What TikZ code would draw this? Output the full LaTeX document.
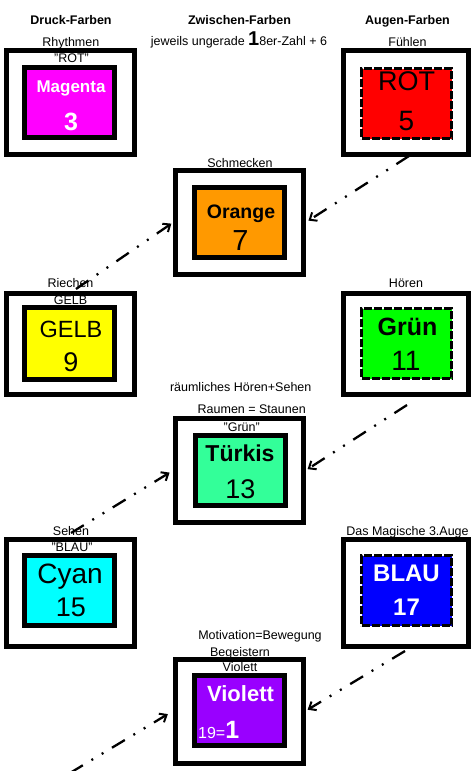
\documentclass[tikz,border=0pt]{standalone}
\usepackage{fontspec}
\setmainfont{Liberation Sans}
\usetikzlibrary{arrows.meta}
\definecolor{cMag}{HTML}{FF00FF}
\definecolor{cRot}{HTML}{FF0000}
\definecolor{cOra}{HTML}{FF9900}
\definecolor{cGelb}{HTML}{FFFF00}
\definecolor{cGrun}{HTML}{00FF00}
\definecolor{cTur}{HTML}{33FF99}
\definecolor{cCyan}{HTML}{00FFFF}
\definecolor{cBlau}{HTML}{0000FF}
\definecolor{cVio}{HTML}{9900FF}
\newcommand{\fsz}[1]{\fontsize{#1}{#1}\selectfont}
\tikzset{
  outerbox/.style={draw=black, line width=5pt, minimum width=128pt, minimum height=104pt, inner sep=0pt},
  innerbox/.style={draw=black, line width=5pt, minimum width=90pt, minimum height=70pt, inner sep=0pt},
  dashbox/.style={draw=black, line width=3pt, dash pattern=on 8pt off 2pt, minimum width=90pt, minimum height=70pt, inner sep=0pt},
  lab/.style={inner sep=0pt, anchor=base, font=\fsz{12.5}},
  head/.style={lab, font=\bfseries\fsz{12.5}},
  word/.style={inner sep=0pt, anchor=base},
  conn/.style={line width=2.3pt, dash pattern=on 15pt off 10pt on 2pt off 10pt on 2pt off 10pt,
    -{Straight Barb[length=6pt,width=10pt,line width=2pt]}}
}
\begin{document}
\begin{tikzpicture}[x=1pt,y=-1pt]
\useasboundingbox[fill=white] (0,0) rectangle (472,771);

% boxes
\node[outerbox] (magO) at (70.5,102.5) {};
\node[innerbox, fill=cMag] (mag) at (69.5,102.5) {};
\node[outerbox, minimum width=125.5pt] (rotO) at (405.75,102.5) {};
\node[dashbox, fill=cRot] (rot) at (406.5,103.5) {};
\node[outerbox, minimum width=127.5pt] (oraO) at (239.25,222.5) {};
\node[innerbox, fill=cOra] (ora) at (239.5,222.5) {};
\node[outerbox, minimum height=101.5pt] (gelO) at (70.5,343.75) {};
\node[innerbox, fill=cGelb, minimum height=72pt] (gel) at (69.5,343.5) {};
\node[outerbox, minimum width=125.5pt, minimum height=101.5pt] (gruO) at (405.75,343.75) {};
\node[dashbox, fill=cGrun] (gru) at (406.5,343.5) {};
\node[outerbox, minimum width=127.5pt] (turO) at (239.25,470.5) {};
\node[innerbox, fill=cTur] (tur) at (240,470.5) {};
\node[outerbox, minimum height=107pt] (cyaO) at (70.5,593) {};
\node[innerbox, fill=cCyan] (cya) at (69.5,590.5) {};
\node[outerbox, minimum width=125.5pt, minimum height=107pt] (blaO) at (405.75,593) {};
\node[dashbox, fill=cBlau] (bla) at (406.5,590.5) {};
\node[outerbox, minimum width=127.5pt] (vioO) at (239.25,711) {};
\node[innerbox, fill=cVio] (vio) at (239.5,710.5) {};

% texts inside the colour boxes
\node[word, font=\bfseries\fsz{17}, text=white] (magW) at (71,92) {Magenta};
\node[word, font=\bfseries\fsz{25}, text=white] (magN) at (71,130) {3};
\node[word, font=\fsz{27}] (rotW) at (406.5,90.5) {ROT};
\node[word, font=\fsz{28}] (rotN) at (406.5,130.5) {5};
\node[word, font=\bfseries\fsz{19.5}] (oraW) at (241,218.5) {Orange};
\node[word, font=\fsz{29}] (oraN) at (240.5,250) {7};
\node[word, font=\fsz{23.5}] (gelW) at (71,337) {GELB};
\node[word, font=\fsz{27}] (gelN) at (71,371.5) {9};
\node[word, font=\bfseries\fsz{25}] (gruW) at (407.5,335) {Grün};
\node[word, font=\fsz{28}] (gruN) at (406,370) {11};
\node[word, font=\bfseries\fsz{23}] (turW) at (240,461.5) {Türkis};
\node[word, font=\fsz{27}] (turN) at (240.5,498) {13};
\node[word, font=\fsz{28}] (cyaW) at (70,583) {Cyan};
\node[word, font=\fsz{27}] (cyaN) at (71,616.5) {15};
\node[word, font=\bfseries\fsz{24}, text=white] (blaW) at (406.5,581.5) {BLAU};
\node[word, font=\bfseries\fsz{24}, text=white] (blaN) at (406.5,615) {17};
\node[word, font=\bfseries\fsz{22}, text=white] (vioW) at (240.5,701.5) {Violett};
\node[word, anchor=base west, text=white] (vioN) at (198,738.5) {\fsz{16}19=\bfseries\fsz{25}1};

% labels
\node[head] (h1) at (71,24) {Druck-Farben};
\node[head] (h2) at (239.5,24) {Zwischen-Farben};
\node[head] (h3) at (407.5,24) {Augen-Farben};
\node[lab] (l1) at (70.8,46) {Rhythmen};
\node[lab] (l2) at (239,45) {jeweils ungerade {\bfseries\fsz{20}1}8er-Zahl + 6};
\node[lab] (l3) at (407.5,46) {Fühlen};
\node[lab] (l4) at (71.5,62.5) {"ROT"};
\node[lab] (l5) at (240,167.8) {Schmecken};
\node[lab] (l6) at (70.5,287.8) {Riechen};
\node[lab] (l7) at (70.5,304.5) {GELB};
\node[lab] (l8) at (406,287.8) {Hören};
\node[lab] (l9) at (240.7,391.2) {räumliches Hören+Sehen};
\node[lab] (l10) at (251.7,413.8) {Raumen = Staunen};
\node[lab] (l11) at (241.7,431.2) {"Grün"};
\node[lab] (l12) at (71,535.2) {Sehen};
\node[lab] (l13) at (72,551.8) {"BLAU"};
\node[lab] (l14) at (407.5,535.2) {Das Magische 3.Auge};
\node[lab] (l15) at (260,639.5) {Motivation=Bewegung};
\node[lab] (l16) at (240,656.2) {Begeistern};
\node[lab] (l17) at (240,671.2) {Violett};

% connectors
\coordinate (c1) at (76,289);
\coordinate (c2) at (409,156);
\coordinate (c3) at (407,405);
\coordinate (c4) at (71,533);
\coordinate (c5) at (405,651);
\coordinate (c6) at (70,773);
\draw[conn, shorten >=2pt] (c1) -- (oraO.west);
\draw[conn, shorten >=3.5pt] (c2) -- (oraO.east);
\draw[conn, shorten >=2.5pt] (c3) -- (turO.east);
\draw[conn, shorten >=4pt] (c4) -- (turO.west);
\draw[conn, shorten >=2.5pt] (c5) -- (vioO.east);
\draw[conn, shorten >=6pt] (c6) -- (vioO.west);
\end{tikzpicture}
\end{document}
